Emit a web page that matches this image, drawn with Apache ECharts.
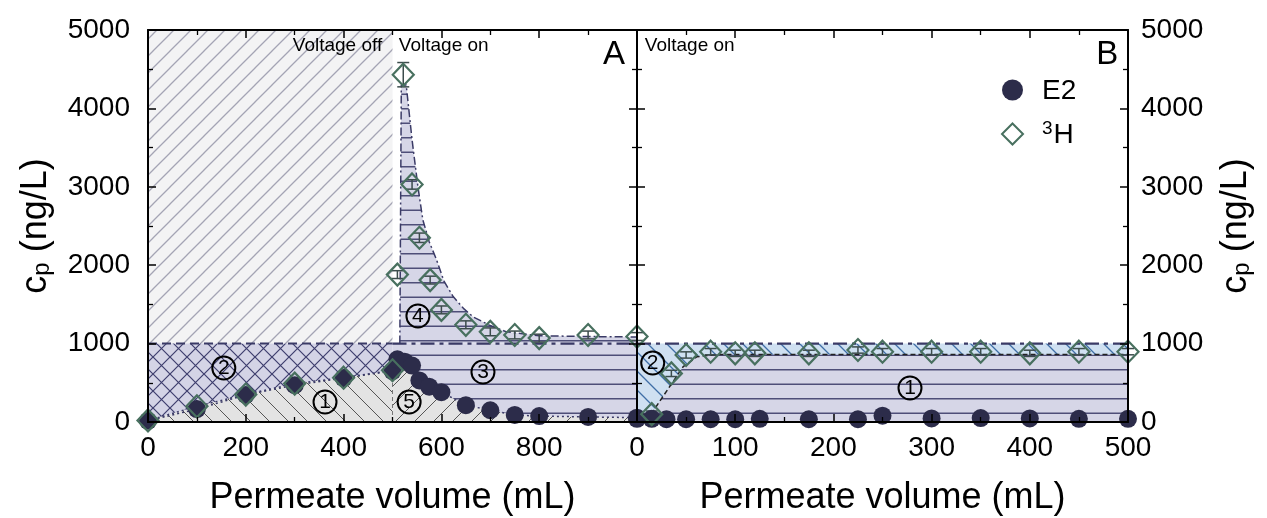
<!DOCTYPE html>
<html><head><meta charset="utf-8">
<script src="https://cdn.jsdelivr.net/npm/echarts@6/dist/echarts.min.js"></script>
<style>html,body{margin:0;padding:0;background:#fff}#c{width:1267px;height:518px}</style>
</head><body><div id="c"></div>
<script>
// ---------- Panel A data ----------
const A_E2_X = [0,100,200,300,400,500,510,525,540,555,575,600,650,700,750,800,900,1000];
const A_E2_Y = [15,165,345,470,560,650,800,770,720,530,450,380,215,150,90,75,65,55];
const A_3H_X = [0,100,200,300,400,500,510,522,540,555,577,600,650,700,750,800,900,1000];
const A_3H_Y = [20,200,350,490,565,660,1880,4430,3030,2350,1810,1430,1240,1150,1110,1070,1110,1090];
const A_3H_ERR = [0,0,0,0,0,0,50,155,60,60,50,50,50,50,50,50,50,50];
// envelope of the 3H breakthrough after switching the voltage on
const A_FIT_X = [515,518,528,540,552,562,575,590,605,624,645,665,700,733,800,900,1000];
const A_FIT_Y = [1000,4300,4300,3600,3000,2580,2300,2070,1800,1600,1450,1340,1230,1150,1100,1090,1085];
// ---------- Panel B data ----------
const B_E2_X = [0,15,30,50,75,100,125,175,225,250,300,350,400,450,500];
const B_E2_Y = [40,40,35,35,35,35,40,35,35,80,45,50,45,40,40];
const B_3H_X = [15,35,50,75,100,120,175,225,250,300,350,400,450,500];
const B_3H_Y = [100,620,855,897,876,876,876,918,897,897,897,876,897,897];
const B_3H_ERR = [40,40,40,40,40,40,40,40,40,40,40,40,40,40];
const B_FIT_X = [12,17,47,61,80,500];
const B_FIT_Y = [0,150,705,833,860,860];
// ---------- limits / ticks ----------
const LIMIT = 1000, SWITCH_ON = 500, Y_MAX = 5000, A_X_MAX = 1000, B_X_MAX = 500;

const FONT = '"Liberation Sans", Arial, sans-serif';
const NAVY = '#2c2c4a', DIAM = '#48705f';
const zip = (xs, ys) => xs.map((x, i) => [x, ys[i]]);

function hatch(bg, line, lw, s, kind) {
  const c = document.createElement('canvas');
  const h = kind === 'h' ? s * 2 : s;
  c.width = s; c.height = h;
  const g = c.getContext('2d');
  g.fillStyle = bg; g.fillRect(0, 0, s, h);
  g.strokeStyle = line; g.lineWidth = lw;
  g.beginPath();
  if (kind.indexOf('/') >= 0) {
    g.moveTo(-1, s + 1); g.lineTo(s + 1, -1);
    g.moveTo(-2, 2); g.lineTo(2, -2);
    g.moveTo(s - 2, s + 2); g.lineTo(s + 2, s - 2);
  }
  if (kind.indexOf('\\') >= 0) {
    g.moveTo(-1, -1); g.lineTo(s + 1, s + 1);
    g.moveTo(-2, s - 2); g.lineTo(2, s + 2);
    g.moveTo(s - 2, -2); g.lineTo(s + 2, 2);
  }
  if (kind === 'h') {
    g.moveTo(0, s / 2); g.lineTo(s, s / 2);
    g.moveTo(0, s * 1.5); g.lineTo(s, s * 1.5);
  }
  g.stroke();
  return { image: c, repeat: 'repeat' };
}

const P_OFF = hatch('#f3f3f4', '#a4a4b4', 1.3, 17, '/');
const P_CROSS = hatch('#d4d4e6', '#3e3e6e', 1.2, 17, '/\\');
const P_R1 = hatch('#e3e3e3', '#555', 1.0, 19, '\\');
const P_R5 = hatch('#e3e3e3', '#555', 1.0, 19, '/');
const P_H = hatch('#d6d6e7', '#4e4e78', 1.3, 14.5, 'h');
const P_BLUE = hatch('#cfe0f1', '#3f6ea6', 1.3, 19, '\\');

function poly(gi, pts, fill) {
  return {
    type: 'custom', xAxisIndex: gi * 2, yAxisIndex: gi * 2, silent: true, z: 1,
    clip: true, data: [[0, 0]],
    renderItem: (params, api) => ({
      type: 'polygon', shape: { points: pts.map(p => api.coord(p)) },
      style: { fill: fill }
    })
  };
}
function line(gi, pts, color, width, type, z) {
  return {
    type: 'line', xAxisIndex: gi * 2, yAxisIndex: gi * 2, data: pts, symbol: 'none',
    silent: true, z: z || 3, clip: true,
    lineStyle: { color: color, width: width, type: type }
  };
}
function errBars(gi, xs, ys, es) {
  return {
    type: 'custom', xAxisIndex: gi * 2, yAxisIndex: gi * 2, silent: true, z: 4,
    data: xs.map((x, i) => [x, ys[i], es[i]]),
    renderItem: (params, api) => {
      const x = api.value(0), y = api.value(1), e = api.value(2);
      if (!e) return null;
      const t = api.coord([x, y + e]), b = api.coord([x, y - e]);
      const w = 6, st = { stroke: '#3c4c4c', lineWidth: 1.5 };
      return { type: 'group', children: [
        { type: 'line', shape: { x1: t[0], y1: t[1], x2: b[0], y2: b[1] }, style: st },
        { type: 'line', shape: { x1: t[0] - w, y1: t[1], x2: t[0] + w, y2: t[1] }, style: st },
        { type: 'line', shape: { x1: b[0] - w, y1: b[1], x2: b[0] + w, y2: b[1] }, style: st }
      ] };
    }
  };
}

const A3H = zip(A_3H_X, A_3H_Y), AE2 = zip(A_E2_X, A_E2_Y);
const A_OFF_PTS = A3H.filter(p => p[0] <= SWITCH_ON);
const A_ON_E2 = AE2.filter(p => p[0] >= SWITCH_ON);
const A_FIT = zip(A_FIT_X, A_FIT_Y);
const B_FIT = zip(B_FIT_X, B_FIT_Y);

const circ = { width: 23, height: 23, borderRadius: 13, borderColor: '#000', borderWidth: 2,
  align: 'center', fontSize: 21, fontFamily: FONT, color: '#000', lineHeight: 23,
  textBorderWidth: 0 };
function ann(gi, items) {
  return {
    type: 'scatter', xAxisIndex: gi * 2, yAxisIndex: gi * 2, silent: true, z: 6,
    symbolSize: 0.1, itemStyle: { color: 'rgba(0,0,0,0)' },
    data: items.map(it => ({
      value: it.v,
      label: { show: true, position: 'inside', formatter: it.t, align: it.align || 'center',
        fontSize: it.fs || 19, fontFamily: FONT, color: '#000', textBorderWidth: 0,
        textBorderColor: 'transparent', opacity: 1, rich: { c: circ } }
    }))
  };
}

function xAx(gi, top, max, interval, split, showLabels) {
  return {
    type: 'value', gridIndex: gi, position: top ? 'top' : 'bottom', min: 0, max: max, interval: interval,
    z: 10,
    axisLine: { show: true, onZero: false, lineStyle: { color: '#000', width: 2 } },
    axisTick: { show: true, inside: true, length: 8, lineStyle: { color: '#000', width: 1.5 } },
    minorTick: { show: true, splitNumber: split, length: 5, lineStyle: { color: '#000', width: 1.3 } },
    splitLine: { show: false },
    axisLabel: { show: showLabels, fontSize: 28, fontFamily: FONT, color: '#000', margin: 12,
      formatter: v => (gi === 0 && v >= A_X_MAX) ? '' : String(v) },
    name: showLabels ? 'Permeate volume (mL)' : '', nameLocation: 'middle', nameGap: 58,
    nameTextStyle: { fontSize: 36, fontFamily: FONT, color: '#000' }
  };
}
const yName = '{n|c}{s|p}{n| (ng/L)}';
const yNameStyle = { fontFamily: FONT, color: '#000',
  rich: { n: { fontSize: 36, fontFamily: FONT, lineHeight: 40, verticalAlign: 'top' },
          s: { fontSize: 24, fontFamily: FONT, lineHeight: 40, verticalAlign: 'top', padding: [12, 0, 0, 0] } } };
function yAx(gi, right, showLabels) {
  return {
    type: 'value', gridIndex: gi, position: right ? 'right' : 'left', min: 0, max: Y_MAX, interval: 1000,
    z: 10,
    axisLine: { show: true, onZero: false, lineStyle: { color: '#000', width: 2 } },
    axisTick: { show: true, inside: true, length: 8, lineStyle: { color: '#000', width: 1.5 } },
    minorTick: { show: true, splitNumber: 2, length: 5, lineStyle: { color: '#000', width: 1.3 } },
    splitLine: { show: false },
    axisLabel: { show: showLabels, fontSize: 28, fontFamily: FONT, color: '#000', margin: right ? 13 : 18,
      formatter: v => String(v) },
    name: showLabels ? yName : '', nameLocation: 'middle', nameRotate: 90, nameGap: 90,
    nameTextStyle: yNameStyle
  };
}

const option = {
  animation: false,
  backgroundColor: '#fff',
  grid: [
    { left: 148, top: 30, width: 489, height: 392, outerBoundsMode: 'none', containLabel: false },
    { left: 637, top: 30, width: 491, height: 392, outerBoundsMode: 'none', containLabel: false }
  ],
  xAxis: [xAx(0, false, A_X_MAX, 200, 2, true), xAx(0, true, A_X_MAX, 200, 2, false),
          xAx(1, false, B_X_MAX, 100, 2, true), xAx(1, true, B_X_MAX, 100, 2, false)],
  yAxis: [yAx(0, false, true), yAx(0, true, false), yAx(1, false, false), yAx(1, true, true)],
  legend: {
    orient: 'vertical', left: 996, top: 72, itemWidth: 21, itemHeight: 21, itemGap: 14,
    data: ['E2', '³H'],
    formatter: n => n === '³H' ? '{sp|3}{t|H}' : '{t|' + n + '}',
    textStyle: { fontSize: 28, fontFamily: FONT, color: '#000', padding: [0, 0, 0, 14],
      rich: { t: { fontSize: 28, fontFamily: FONT, color: '#000', lineHeight: 30, verticalAlign: 'bottom' },
              sp: { fontSize: 19, fontFamily: FONT, color: '#000', lineHeight: 30, verticalAlign: 'top', padding: [0, 1, 8, 0] } } }
  },
  series: [
    // Panel A regions
    poly(0, [[0, LIMIT], [0, Y_MAX], [SWITCH_ON, Y_MAX], [SWITCH_ON, LIMIT]], P_OFF),
    poly(0, [[0, 0]].concat(A_OFF_PTS, [[SWITCH_ON, 0]]), P_R1),
    poly(0, [[0, LIMIT]].concat(A_OFF_PTS, [[SWITCH_ON, LIMIT]]), P_CROSS),
    poly(0, [[SWITCH_ON, 0]].concat(A_ON_E2, [[A_X_MAX, 0]]), P_R5),
    poly(0, [[SWITCH_ON, LIMIT]].concat(A_ON_E2, [[A_X_MAX, LIMIT]]), P_H),
    poly(0, A_FIT.concat([[A_X_MAX, LIMIT]]), P_H),
    // Panel B regions
    poly(1, [[0, 0], [0, LIMIT], [B_X_MAX, LIMIT], [B_X_MAX, 0]], P_BLUE),
    poly(1, B_FIT.concat([[B_X_MAX, 0]]), P_H),
    // Panel A guide lines
    line(0, [[0, LIMIT], [SWITCH_ON, LIMIT]], '#3a3a66', 2, [9, 5]),
    line(0, [[SWITCH_ON, LIMIT], [A_X_MAX, LIMIT]], '#3a3a66', 2.2, [14, 5, 4, 5]),
    line(0, [[SWITCH_ON, 0], [SWITCH_ON, A_E2_Y[A_E2_X.indexOf(SWITCH_ON)]]], '#777', 1, [4, 3]),
    line(0, A_FIT, '#3a3a66', 1.5, [8, 3, 2, 3]),
    line(0, A_OFF_PTS, '#3a3a66', 1.5, [2, 3]),
    line(0, AE2, '#3a3a66', 1.5, [2, 3]),
    // Panel B guide lines
    line(1, [[0, LIMIT], [B_X_MAX, LIMIT]], '#3a3a66', 2.2, [14, 5, 4, 5]),
    line(1, B_FIT, '#222', 1.5, [5, 3]),
    // error bars
    errBars(0, A_3H_X, A_3H_Y, A_3H_ERR),
    errBars(1, B_3H_X, B_3H_Y, B_3H_ERR),
    // markers
    { type: 'scatter', name: 'E2', xAxisIndex: 0, yAxisIndex: 0, data: AE2, symbol: 'circle', symbolSize: 18,
      itemStyle: { color: NAVY, opacity: 1 }, z: 5, clip: true },
    { type: 'scatter', name: 'E2', xAxisIndex: 2, yAxisIndex: 2, data: zip(B_E2_X, B_E2_Y), symbol: 'circle', symbolSize: 18,
      itemStyle: { color: NAVY, opacity: 1 }, z: 5, clip: true },
    { type: 'scatter', name: '³H', xAxisIndex: 0, yAxisIndex: 0, data: A3H, symbol: 'diamond', symbolSize: [21, 22],
      itemStyle: { color: 'rgba(255,255,255,0)', borderColor: DIAM, borderWidth: 2.2, opacity: 1 }, z: 5, clip: true },
    { type: 'scatter', name: '³H', xAxisIndex: 2, yAxisIndex: 2, data: zip(B_3H_X, B_3H_Y), symbol: 'diamond', symbolSize: [21, 22],
      itemStyle: { color: 'rgba(255,255,255,0)', borderColor: DIAM, borderWidth: 2.2, opacity: 1 }, z: 5, clip: true },
    // annotations
    ann(0, [
      { v: [479, 4800], t: 'Voltage off', align: 'right' },
      { v: [513, 4800], t: 'Voltage on', align: 'left' },
      { v: [953, 4680], t: 'A', fs: 33 },
      { v: [362, 255], t: '{c|1}' }, { v: [155, 689], t: '{c|2}' }, { v: [685, 638], t: '{c|3}' },
      { v: [552, 1352], t: '{c|4}' }, { v: [534, 255], t: '{c|5}' }
    ]),
    ann(1, [
      { v: [8, 4800], t: 'Voltage on', align: 'left' },
      { v: [479, 4680], t: 'B', fs: 33 },
      { v: [278, 434], t: '{c|1}' }, { v: [16, 753], t: '{c|2}' }
    ])
  ]
};
const chart = echarts.init(document.getElementById('c'), null, { renderer: 'canvas' });
chart.setOption(option);
</script></body></html>
